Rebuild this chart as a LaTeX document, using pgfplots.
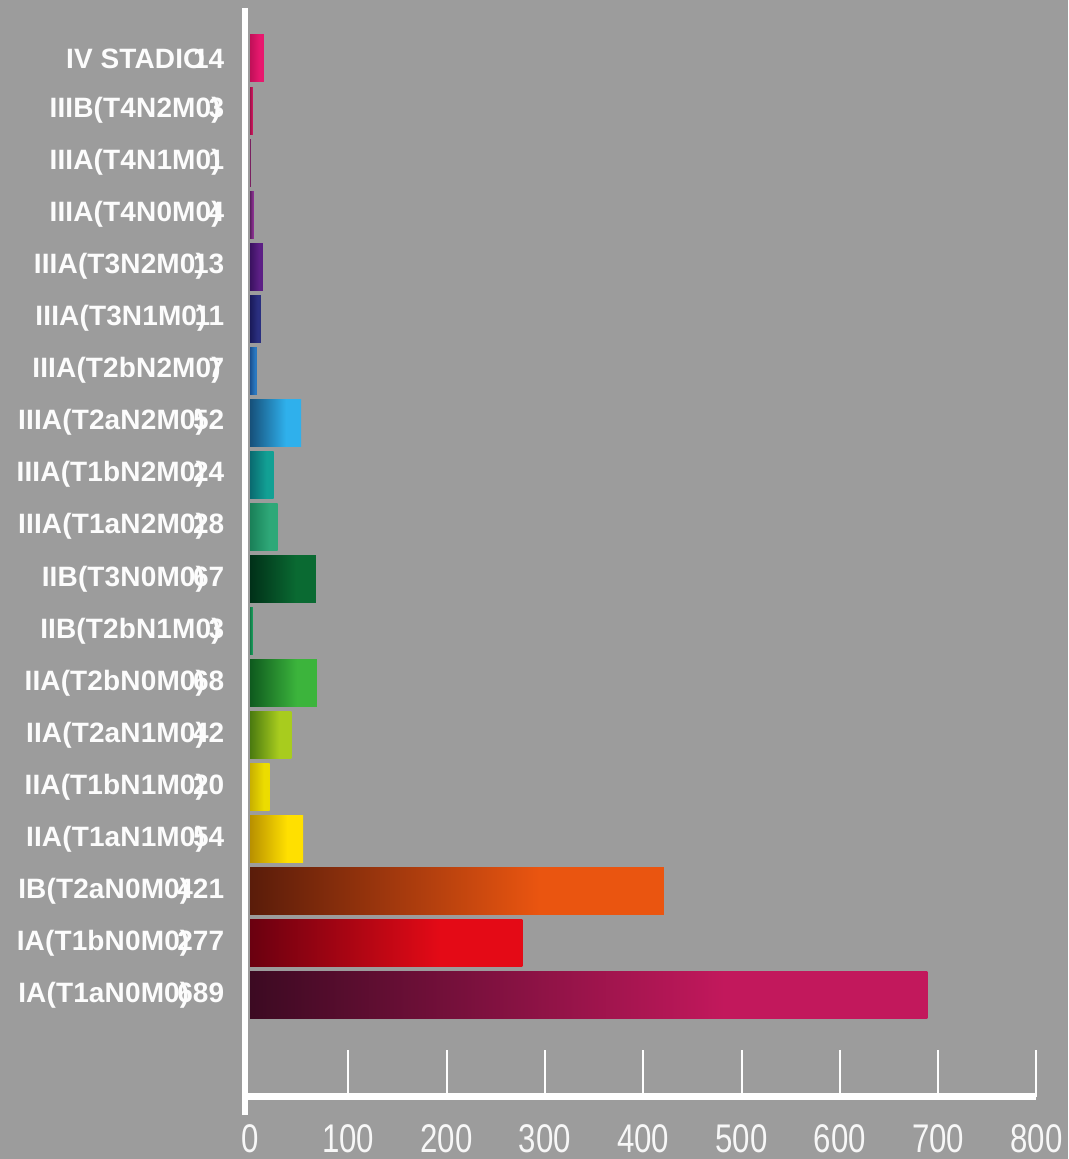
\documentclass[border=0pt]{standalone}
\usepackage{fontspec}
\usepackage{pgfplots}
\pgfplotsset{compat=1.18}
\setmainfont{Liberation Sans}
\newfontfamily\labfont{Liberation Sans}[LetterSpace=0.5]
\newfontfamily\tickfont{Liberation Sans}[FakeStretch=0.78]
\definecolor{bg}{HTML}{9C9C9C}
% dark (left) and bright (right) colours, index 0 = bottom bar
\definecolor{d0}{HTML}{3C0A22}\definecolor{b0}{HTML}{C2185C}
\definecolor{d1}{HTML}{6A0010}\definecolor{b1}{HTML}{E40A16}
\definecolor{d2}{HTML}{5A1C0A}\definecolor{b2}{HTML}{EA5510}
\definecolor{d3}{HTML}{B89000}\definecolor{b3}{HTML}{FFE000}
\definecolor{d4}{HTML}{C8B000}\definecolor{b4}{HTML}{ECDC00}
\definecolor{d5}{HTML}{4A7A10}\definecolor{b5}{HTML}{A8CC1E}
\definecolor{d6}{HTML}{0E5A1E}\definecolor{b6}{HTML}{3CB43C}
\definecolor{d7}{HTML}{127A48}\definecolor{b7}{HTML}{1A9A5A}
\definecolor{d8}{HTML}{003018}\definecolor{b8}{HTML}{0A6A32}
\definecolor{d9}{HTML}{1A8058}\definecolor{b9}{HTML}{2EA878}
\definecolor{d10}{HTML}{0A6A70}\definecolor{b10}{HTML}{12A094}
\definecolor{d11}{HTML}{16507A}\definecolor{b11}{HTML}{2FB0EC}
\definecolor{d12}{HTML}{1A5090}\definecolor{b12}{HTML}{2A78C0}
\definecolor{d13}{HTML}{1A1A5A}\definecolor{b13}{HTML}{2A2F80}
\definecolor{d14}{HTML}{3A1260}\definecolor{b14}{HTML}{5C1F85}
\definecolor{d15}{HTML}{5A2060}\definecolor{b15}{HTML}{8A3090}
\definecolor{d16}{HTML}{7A2060}\definecolor{b16}{HTML}{9A2A7A}
\definecolor{d17}{HTML}{A01048}\definecolor{b17}{HTML}{C8185E}
\definecolor{d18}{HTML}{C01058}\definecolor{b18}{HTML}{E8186E}
\newcommand\mkshade[1]{\pgfdeclarehorizontalshading{sh#1}{100bp}{color(0bp)=(d#1); color(25bp)=(d#1); color(60bp)=(b#1); color(100bp)=(b#1)}}
\mkshade{0}\mkshade{1}\mkshade{2}\mkshade{3}\mkshade{4}\mkshade{5}\mkshade{6}
\mkshade{7}\mkshade{8}\mkshade{9}\mkshade{10}\mkshade{11}\mkshade{12}\mkshade{13}
\mkshade{14}\mkshade{15}\mkshade{16}\mkshade{17}\mkshade{18}
\newcommand\lab[2]{\makebox[0pt][r]{#1\kern-12pt#2}}
\pgfplotsset{barstyle/.style={xbar, bar width=47pt, bar shift=0pt, draw=none, shade, shading=sh#1}}
\begin{document}
\begin{tikzpicture}
\fill[bg] (0,0) rectangle (1068pt,1159pt);
\begin{axis}[
  at={(250pt,62pt)}, anchor=south west,
  scale only axis, width=786.4pt, height=1089pt,
  xmin=0, xmax=800, ymin=-1.96, ymax=18.97,
  clip=false,
  axis line style={draw=none},
  xtick={100,200,...,800},
  extra x ticks={0},
  extra x tick style={major tick length=0pt},
  ytick={0,...,18},
  yticklabels={
    {\lab{IA(T1aN0M0)}{689}},
    {\lab{IA(T1bN0M0)}{277}},
    {\lab{IB(T2aN0M0)}{421}},
    {\lab{IIA(T1aN1M0)}{54}},
    {\lab{IIA(T1bN1M0)}{20}},
    {\lab{IIA(T2aN1M0)}{42}},
    {\lab{IIA(T2bN0M0)}{68}},
    {\lab{IIB(T2bN1M0)}{3}},
    {\lab{IIB(T3N0M0)}{67}},
    {\lab{IIIA(T1aN2M0)}{28}},
    {\lab{IIIA(T1bN2M0)}{24}},
    {\lab{IIIA(T2aN2M0)}{52}},
    {\lab{IIIA(T2bN2M0)}{7}},
    {\lab{IIIA(T3N1M0)}{11}},
    {\lab{IIIA(T3N2M0)}{13}},
    {\lab{IIIA(T4N0M0)}{4}},
    {\lab{IIIA(T4N1M0)}{1}},
    {\lab{IIIB(T4N2M0)}{3}},
    {\lab{IV STADIO}{14}}},
  xtick pos=bottom,
  tick align=inside,
  major tick length=47pt,
  xtick style={white, line width=2pt},
  ytick style={draw=none},
  /pgf/number format/assume math mode=true,
  xticklabel style={anchor=north, inner sep=0pt, yshift=-27pt, text=white!92!bg, font=\tickfont\fontsize{40}{40}\selectfont},
  yticklabel style={anchor=east, inner sep=0pt, xshift=-25pt, text=white!97!bg, font=\labfont\bfseries\fontsize{28}{30}\selectfont},
]
\addplot[barstyle=0] coordinates {(689,0)};
\addplot[barstyle=1] coordinates {(277,1)};
\addplot[barstyle=2] coordinates {(421,2)};
\addplot[barstyle=3] coordinates {(54,3)};
\addplot[barstyle=4] coordinates {(20,4)};
\addplot[barstyle=5] coordinates {(42,5)};
\addplot[barstyle=6] coordinates {(68,6)};
\addplot[barstyle=7] coordinates {(3,7)};
\addplot[barstyle=8] coordinates {(67,8)};
\addplot[barstyle=9] coordinates {(28,9)};
\addplot[barstyle=10] coordinates {(24,10)};
\addplot[barstyle=11] coordinates {(52,11)};
\addplot[barstyle=12] coordinates {(7,12)};
\addplot[barstyle=13] coordinates {(11,13)};
\addplot[barstyle=14] coordinates {(13,14)};
\addplot[barstyle=15] coordinates {(4,15)};
\addplot[barstyle=16] coordinates {(1,16)};
\addplot[barstyle=17] coordinates {(3,17)};
\addplot[barstyle=18] coordinates {(14,18)};
\draw[white, line width=7pt] (axis cs:-4.6,-1.95) -- (axis cs:800,-1.95);
\draw[white, line width=6pt] (axis cs:-4.6,18.97) -- (axis cs:-4.6,-2.31);
\end{axis}
\pgfresetboundingbox
\useasboundingbox (0,0) rectangle (1068pt,1159pt);
\end{tikzpicture}
\end{document}
